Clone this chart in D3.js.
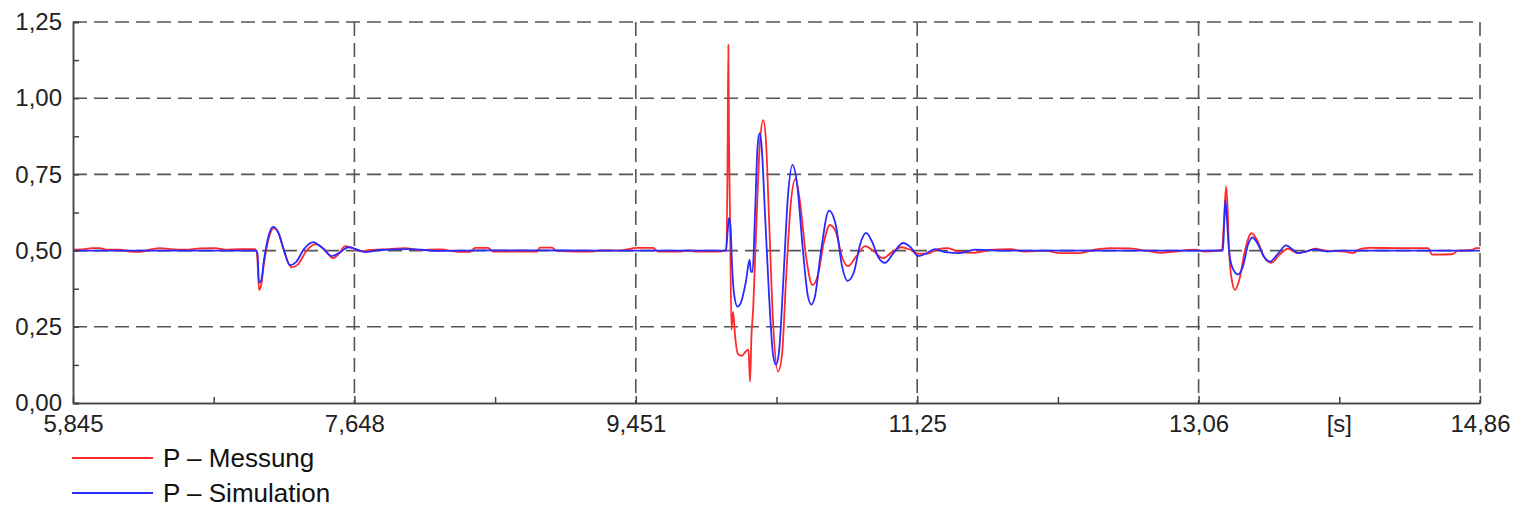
<!DOCTYPE html>
<html>
<head>
<meta charset="utf-8">
<script src="https://cdn.jsdelivr.net/npm/d3@7"></script>
<style>
    body { margin: 0; background: #fff; }
    text { font-family: "Liberation Sans", Arial, sans-serif; }
</style>
</head>
<body>
<div id="chart"></div>
<script>
// time [s] and power values
var messungT = [5.845, 5.922, 5.967, 6.018, 6.056, 6.146, 6.210, 6.274, 6.338, 6.402, 6.467, 6.563, 6.659, 6.755, 6.819, 6.915, 7.011,
    7.024, 7.037, 7.050, 7.069, 7.094, 7.133, 7.165, 7.203, 7.245, 7.287, 7.338, 7.396, 7.453, 7.511, 7.549, 7.588, 7.633, 7.684,
    7.748, 7.876, 7.972, 8.068, 8.196, 8.325, 8.389, 8.421, 8.504, 8.536, 8.818, 8.837, 8.914, 8.940, 9.074, 9.177, 9.222, 9.350,
    9.459, 9.561, 9.593, 9.734, 9.798, 9.830, 9.991, 10.029, 10.039, 10.044, 10.048, 10.055, 10.064, 10.074, 10.087, 10.106,
    10.131, 10.157, 10.173, 10.183, 10.192, 10.202, 10.221, 10.247, 10.268, 10.285, 10.305, 10.330, 10.362, 10.388, 10.413,
    10.445, 10.474, 10.503, 10.542, 10.583, 10.618, 10.657, 10.695, 10.734, 10.772, 10.811, 10.862, 10.920, 10.971, 11.035,
    11.093, 11.153, 11.208, 11.259, 11.323, 11.387, 11.451, 11.515, 11.624, 11.720, 11.849, 11.945, 12.073, 12.169, 12.297,
    12.393, 12.489, 12.617, 12.714, 12.810, 12.906, 13.034, 13.098, 13.162, 13.207, 13.220, 13.233, 13.242, 13.252, 13.271,
    13.290, 13.316, 13.354, 13.396, 13.431, 13.476, 13.524, 13.572, 13.630, 13.694, 13.745, 13.803, 13.867, 13.995, 14.046,
    14.091, 14.155, 14.348, 14.527, 14.553, 14.681, 14.719, 14.809, 14.834, 14.860];
var messungP = [0.503, 0.505, 0.508, 0.508, 0.503, 0.503, 0.497, 0.496, 0.503, 0.508, 0.505, 0.503, 0.507, 0.508, 0.503, 0.505, 0.505,
    0.490, 0.371, 0.385, 0.460, 0.530, 0.574, 0.555, 0.490, 0.445, 0.455, 0.497, 0.521, 0.505, 0.475, 0.490, 0.515, 0.510, 0.498,
    0.502, 0.505, 0.508, 0.502, 0.504, 0.496, 0.496, 0.509, 0.509, 0.497, 0.497, 0.510, 0.510, 0.500, 0.497, 0.497, 0.501, 0.500,
    0.509, 0.509, 0.497, 0.497, 0.501, 0.497, 0.497, 0.503, 0.800, 1.175, 0.870, 0.600, 0.240, 0.300, 0.220, 0.160,
    0.155, 0.170, 0.175, 0.070, 0.220, 0.300, 0.550, 0.860, 0.928, 0.860, 0.600, 0.270, 0.103, 0.160, 0.400,
    0.660, 0.735, 0.660, 0.480, 0.387, 0.420, 0.530, 0.584, 0.560, 0.480, 0.449, 0.480, 0.515, 0.500, 0.475,
    0.495, 0.511, 0.503, 0.490, 0.490, 0.505, 0.508, 0.497, 0.493, 0.502, 0.505, 0.497, 0.500, 0.492, 0.492,
    0.503, 0.508, 0.507, 0.500, 0.493, 0.497, 0.503, 0.497, 0.499, 0.503, 0.600, 0.710, 0.650, 0.500, 0.400,
    0.371, 0.400, 0.500, 0.557, 0.535, 0.480, 0.460, 0.485, 0.506, 0.492, 0.497, 0.506, 0.500, 0.497, 0.492,
    0.505, 0.509, 0.508, 0.508, 0.487, 0.488, 0.500, 0.502, 0.508, 0.508];

var simT = [5.845, 6.338, 7.018, 7.027, 7.037, 7.050, 7.069, 7.094, 7.126, 7.159, 7.197, 7.235, 7.274, 7.325, 7.383, 7.440, 7.504,
    7.556, 7.607, 7.658, 7.716, 7.812, 8.004, 8.196, 8.453, 9.222, 10.029, 10.039, 10.048, 10.058, 10.067, 10.080, 10.103,
    10.125, 10.157, 10.180, 10.189, 10.199, 10.215, 10.231, 10.244, 10.256, 10.279, 10.305, 10.330, 10.349, 10.369, 10.394,
    10.426, 10.455, 10.484, 10.522, 10.554, 10.577, 10.599, 10.638, 10.689, 10.734, 10.772, 10.808, 10.849, 10.888, 10.926,
    10.964, 11.003, 11.048, 11.099, 11.163, 11.214, 11.259, 11.310, 11.368, 11.432, 11.528, 11.624, 11.785, 13.213, 13.220,
    13.229, 13.239, 13.252, 13.277, 13.310, 13.342, 13.374, 13.402, 13.438, 13.476, 13.515, 13.566, 13.617, 13.656, 13.694,
    13.745, 13.803, 13.880, 13.963, 14.860];
var simP = [0.500, 0.500, 0.500, 0.490, 0.395, 0.400, 0.470, 0.540, 0.578, 0.560, 0.500, 0.452, 0.462, 0.505, 0.528, 0.510, 0.482,
    0.494, 0.511, 0.505, 0.495, 0.502, 0.505, 0.499, 0.501, 0.500, 0.500, 0.560, 0.607, 0.580, 0.460, 0.360, 0.316,
    0.330, 0.400, 0.470, 0.430, 0.430, 0.620, 0.840, 0.885, 0.850, 0.620, 0.350, 0.160, 0.125, 0.170, 0.380,
    0.680, 0.781, 0.720, 0.500, 0.350, 0.323, 0.350, 0.500, 0.631, 0.580, 0.450, 0.401, 0.430, 0.520, 0.558,
    0.530, 0.480, 0.460, 0.490, 0.525, 0.510, 0.482, 0.490, 0.505, 0.495, 0.492, 0.503, 0.500, 0.500, 0.580,
    0.666, 0.600, 0.500, 0.440, 0.422, 0.450, 0.520, 0.543, 0.520, 0.480, 0.464, 0.490, 0.517, 0.505, 0.492,
    0.497, 0.504, 0.497, 0.500, 0.500];

var xTicks = [5.845, 7.648, 9.451, 11.254, 13.057, 14.86];
var xTickLabels = ["5,845", "7,648", "9,451", "11,25", "13,06", "14,86"];
var xMinor = [6.7465, 8.5495, 10.3525, 12.1555, 13.9585];
var yTicks = [0, 0.25, 0.5, 0.75, 1.0, 1.25];
var yTickLabels = ["0,00", "0,25", "0,50", "0,75", "1,00", "1,25"];
var yMinor = [0.125, 0.375, 0.625, 0.875, 1.125];
var unitLabel = "[s]";
var seriesNames = ["P \u2013 Messung", "P \u2013 Simulation"];
var seriesColors = ["#ff2a2a", "#2a2aff"];

var margin = {
    top: 22,
    right: 35,
    bottom: 105,
    left: 73
};

var width = 1515 - margin.left - margin.right;
var height = 508 - margin.top - margin.bottom;

var svg = d3.select('#chart').append('svg')
    .attr("width", 1515)
    .attr("height", 508)

var g = svg.append("g")
    .attr("transform", "translate(" + margin.left + "," + margin.top + ")")

//scale
var x = d3.scaleLinear()
    .domain([xTicks[0], xTicks[xTicks.length - 1]])
    .range([0, width]);

var y = d3.scaleLinear()
    .domain([0, 1.25])
    .range([height, 0]);

//grid
g.selectAll(".hgrid")
    .data(yTicks.slice(1))
    .enter()
    .append("line")
    .attr("x1", 0)
    .attr("x2", width)
    .attr("y1", function (d) { return y(d); })
    .attr("y2", function (d) { return y(d); })
    .attr("stroke", "#555")
    .attr("stroke-width", 1.6)
    .attr("stroke-dasharray", "14,7")

g.selectAll(".vgrid")
    .data(xTicks.slice(1))
    .enter()
    .append("line")
    .attr("x1", function (d) { return x(d); })
    .attr("x2", function (d) { return x(d); })
    .attr("y1", 0)
    .attr("y2", height)
    .attr("stroke", "#555")
    .attr("stroke-width", 1.6)
    .attr("stroke-dasharray", "14,7")

//lines
var lineMessung = d3.line()
    .x(function (d, i) { return x(messungT[i]); })
    .y(function (d) { return y(d); })
    .curve(d3.curveMonotoneX);

var lineSim = d3.line()
    .x(function (d, i) { return x(simT[i]); })
    .y(function (d) { return y(d); })
    .curve(d3.curveMonotoneX);

g.append("path")
    .datum(messungP)
    .attr("d", lineMessung)
    .attr("fill", "none")
    .attr("stroke", seriesColors[0])
    .attr("stroke-width", 1.8)
    .attr("stroke-linejoin", "round")

g.append("path")
    .datum(simP)
    .attr("d", lineSim)
    .attr("fill", "none")
    .attr("stroke", seriesColors[1])
    .attr("stroke-width", 1.8)
    .attr("stroke-linejoin", "round")

//y-axis
g.append("g")
    .call(d3.axisLeft(y).tickValues(yTicks).tickSize(-6).tickPadding(11)
        .tickFormat(function (d, i) { return yTickLabels[i]; }))
g.append("g")
    .call(d3.axisLeft(y).tickValues(yMinor).tickSize(-6).tickFormat(""))

//x-axis
g.append("g")
    .attr("transform", "translate(0," + height + ")")
    .call(d3.axisBottom(x).tickValues(xTicks).tickSizeInner(-7).tickSizeOuter(0).tickPadding(12)
        .tickFormat(function (d, i) { return xTickLabels[i]; }))
g.append("g")
    .attr("transform", "translate(0," + height + ")")
    .call(d3.axisBottom(x).tickValues(xMinor).tickSizeInner(-6).tickSizeOuter(0).tickFormat(""))

g.selectAll(".domain, .tick line")
    .attr("stroke", "#444")
    .attr("stroke-width", 1.5)
g.selectAll(".tick text")
    .attr("font-size", "24px")
    .attr("fill", "#222")
    .style("font-family", "Liberation Sans, Arial, sans-serif")

// unit label
g.append("text")
    .attr("x", x(xMinor[4]))
    .attr("y", height + 12)
    .attr("dy", "0.71em")
    .attr("text-anchor", "middle")
    .attr("font-size", "24px")
    .attr("fill", "#222")
    .text(unitLabel)

//legend
var legend = svg.selectAll(".legend")
    .data(seriesNames)
    .enter()
    .append("g")
    .attr("transform", function (d, i) { return "translate(72," + (458 + i * 35) + ")"; })

legend.append("line")
    .attr("x1", 0)
    .attr("x2", 81)
    .attr("stroke", function (d, i) { return seriesColors[i]; })
    .attr("stroke-width", 2)

legend.append("text")
    .attr("x", 91)
    .attr("dy", "0.36em")
    .attr("font-size", "26px")
    .attr("fill", "#111")
    .text(function (d) { return d; })
</script>
</body>
</html>
